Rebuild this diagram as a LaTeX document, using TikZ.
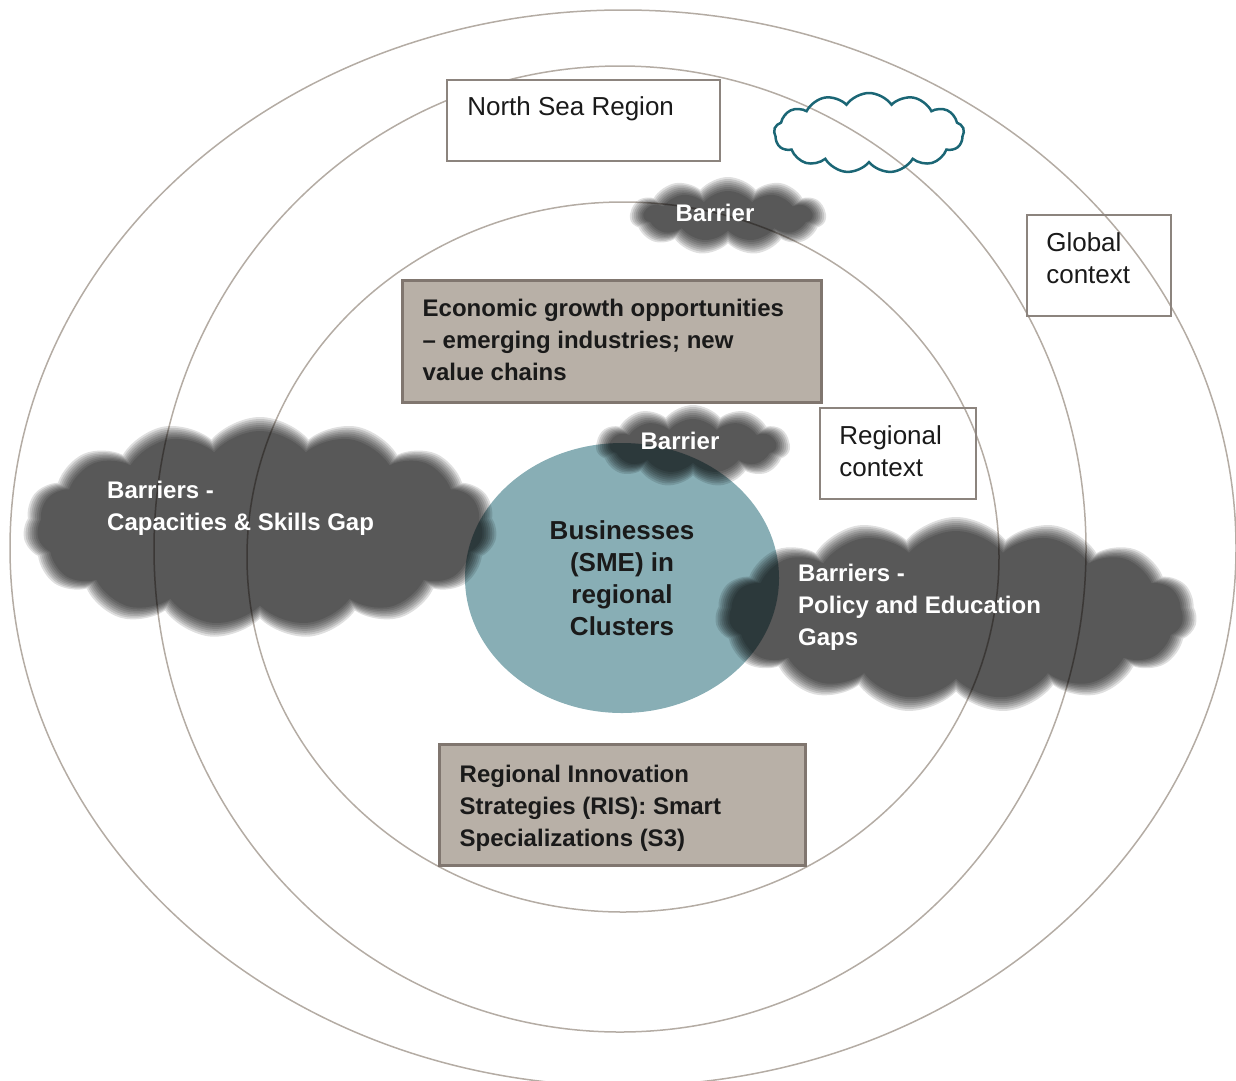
\documentclass[tikz,border=0pt]{standalone}
\usepackage{fontspec}
\setmainfont{Liberation Sans}
\usetikzlibrary{positioning,shapes.geometric,shapes.symbols}
\definecolor{ringc}{HTML}{B4ACA4}
\definecolor{boxline}{HTML}{8C847E}
\definecolor{greyfill}{HTML}{B8B0A7}
\definecolor{greyline}{HTML}{80766F}
\definecolor{tealfill}{HTML}{88AEB5}
\definecolor{tealline}{HTML}{1B6675}
\definecolor{textc}{HTML}{1A1A1A}
\tikzset{
  ring/.style    ={draw=ringc, line width=1.5pt},
  box/.style     ={draw=boxline, line width=1.8pt, inner sep=0pt},
  greybox/.style ={draw=greyline, fill=greyfill, line width=3pt, inner sep=0pt},
  txt/.style     ={inner sep=0pt, align=left, text=textc, font=\fontsize{26}{32}\selectfont},
  btxt/.style    ={inner sep=0pt, align=left, text=textc, font=\fontsize{24}{32}\selectfont\bfseries},
  wtxt/.style    ={inner sep=0pt, align=left, text=white, font=\fontsize{24}{32}\selectfont\bfseries},
  fog/.style     ={cloud, cloud ignores aspect, cloud puff arc=100, draw=none, fill=black,
                   fill opacity=0.125, inner sep=0pt}
}
\begin{document}
\begin{tikzpicture}[x=1pt, y=-1pt]
    \useasboundingbox (0,0) rectangle (1236,1080);
    % context rings
    \draw[ring] (623,548) ellipse [x radius=613pt, y radius=538pt];
    \draw[ring] (620,549) ellipse [x radius=466pt, y radius=483pt];
    \draw[ring] (623,557) ellipse [x radius=376pt, y radius=355pt];
    % boxes
    \node[box, fill=white, minimum width=273pt, minimum height=81pt] (nsr) at (583.5,120.5) {};
    \node[box, minimum width=144pt, minimum height=101pt] (glob) at (1099,265.5) {};
    \node[box, minimum width=156pt, minimum height=91pt] (reg) at (898,453.5) {};
    \node[greybox, minimum width=419pt, minimum height=122pt] (econ) at (611.5,341) {};
    \node[greybox, minimum width=366pt, minimum height=121pt] (ris) at (622,804.5) {};
    \node[txt, below right=17pt and 21pt of nsr.north west] (nsrtxt) {North Sea Region};
    \node[txt, below right=18pt and 20pt of glob.north west] (globtxt) {Global\\context};
    \node[txt, below right=18pt and 20pt of reg.north west] (regtxt) {Regional\\context};
    \node[btxt, below right=20pt and 22pt of econ.north west] (econtxt)
      {Economic growth opportunities\\– emerging industries; new\\value chains};
    \node[btxt, below right=22pt and 22pt of ris.north west] (ristxt)
      {Regional Innovation\\Strategies (RIS): Smart\\Specializations (S3)};
    % SME core
    \node[ellipse, fill=tealfill, minimum width=314pt, minimum height=270pt, align=center,
      text=textc, font=\fontsize{26}{32}\selectfont\bfseries] (sme) at (622,578)
      {Businesses\\(SME) in\\regional\\Clusters};
    % outlined cloud
    \node[cloud, cloud puffs=13, cloud puff arc=110, cloud ignores aspect, draw=tealline,
      line width=2.5pt, minimum width=190pt, minimum height=80pt] (sky) at (869,133) {};
    % barrier clouds (soft edges)
    \foreach \nm/\cx/\cy/\w/\h/\p in {lfog/260/528/446/194/15, rfog/956/615/454/168/15,
                                      tfog/728/216/168/50/11, mfog/693/446/166/54/11}
      \foreach \s in {0,...,7}
        \node[fog, cloud puffs=\p, minimum width={(\w+4*\s)*1pt},
          minimum height={(\h+4*\s)*1pt}] (\nm\s) at (\cx,\cy) {};
    \node[wtxt, anchor=north west] (lfogtxt) at (107,481) {Barriers -\\Capacities \& Skills Gap};
    \node[wtxt, anchor=north west] (rfogtxt) at (798,564) {Barriers -\\Policy and Education\\Gaps};
    \node[wtxt] (tfogtxt) at (715,213) {Barrier};
    \node[wtxt] (mfogtxt) at (680,441) {Barrier};
\end{tikzpicture}
\end{document}
